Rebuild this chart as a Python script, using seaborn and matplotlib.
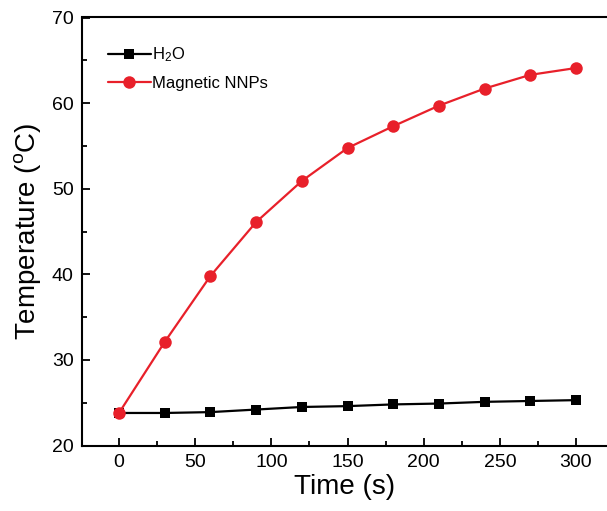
import numpy as np
import pandas as pd
import matplotlib
matplotlib.use("Agg")
import matplotlib.pyplot as plt
import seaborn as sns
from matplotlib.ticker import MultipleLocator

time_s = [0, 30, 60, 90, 120, 150, 180, 210, 240, 270, 300]
h2o = [23.8, 23.8, 23.9, 24.2, 24.5, 24.6, 24.8, 24.9, 25.1, 25.2, 25.3]
nnps = [23.8, 32.1, 39.8, 46.1, 50.9, 54.75, 57.3, 59.7, 61.7, 63.3, 64.1]
series_names = ["H$_2$O", "Magnetic NNPs"]

sns.set_style("ticks")
plt.rcParams['font.family'] = ['Liberation Sans', 'DejaVu Sans']
plt.rcParams['mathtext.fontset'] = 'custom'
plt.rcParams['mathtext.rm'] = 'Liberation Sans'
plt.rcParams['mathtext.it'] = 'Liberation Sans'
for k in ['text.color', 'axes.labelcolor', 'xtick.color', 'ytick.color', 'axes.edgecolor']:
    plt.rcParams[k] = 'black'

df = pd.DataFrame({
    "Time": time_s * 2,
    "Temp": h2o + nnps,
    "Series": [series_names[0]] * len(time_s) + [series_names[1]] * len(time_s),
})

fig = plt.figure(figsize=(6.07, 5.11), dpi=100)
ax = fig.add_axes([82/607, 1 - 445.5/511, (607 - 82)/607, (445.5 - 17.5)/511])

sns.lineplot(data=df, x="Time", y="Temp", hue="Series", style="Series",
             palette={series_names[0]: "black", series_names[1]: "#e8202a"},
             markers={series_names[0]: "s", series_names[1]: "o"},
             dashes=False, markersize=9, linewidth=1.6, markeredgewidth=0,
             ax=ax)
# squares slightly smaller than circles, as in the reference
for ln in ax.lines:
    if ln.get_marker() == 's':
        ln.set_markersize(7.5)

x0 = 119.0; px_per_unit = (576.0 - 119.0) / 300.0
ax.set_xlim((82 - x0) / px_per_unit, (607 - x0) / px_per_unit)
ax.set_ylim(20, 70)
ax.set_xticks([0, 50, 100, 150, 200, 250, 300])
ax.set_yticks([20, 30, 40, 50, 60, 70])
ax.xaxis.set_minor_locator(MultipleLocator(25))
ax.yaxis.set_minor_locator(MultipleLocator(5))
ax.tick_params(which='major', direction='in', length=6, width=1.3, labelsize=14, pad=6,
               colors='black')
ax.tick_params(which='minor', direction='in', length=3.5, width=1.3, colors='black')
for s in ax.spines.values():
    s.set_linewidth(1.5)
    s.set_color('black')
ax.spines['right'].set_visible(False)

ax.set_xlabel("Time (s)", fontsize=20, labelpad=2, color='black')
ax.set_ylabel("Temperature ($^{\\rm o}$C)", fontsize=20, labelpad=6, color='black')

leg = ax.legend(loc='upper left', bbox_to_anchor=(0.02, 0.97), frameon=False,
                fontsize=12, handlelength=2.6, handletextpad=0.1, labelspacing=0.7)
for t in leg.get_texts():
    t.set_color('black')

fig.savefig("out.png", dpi=100)
